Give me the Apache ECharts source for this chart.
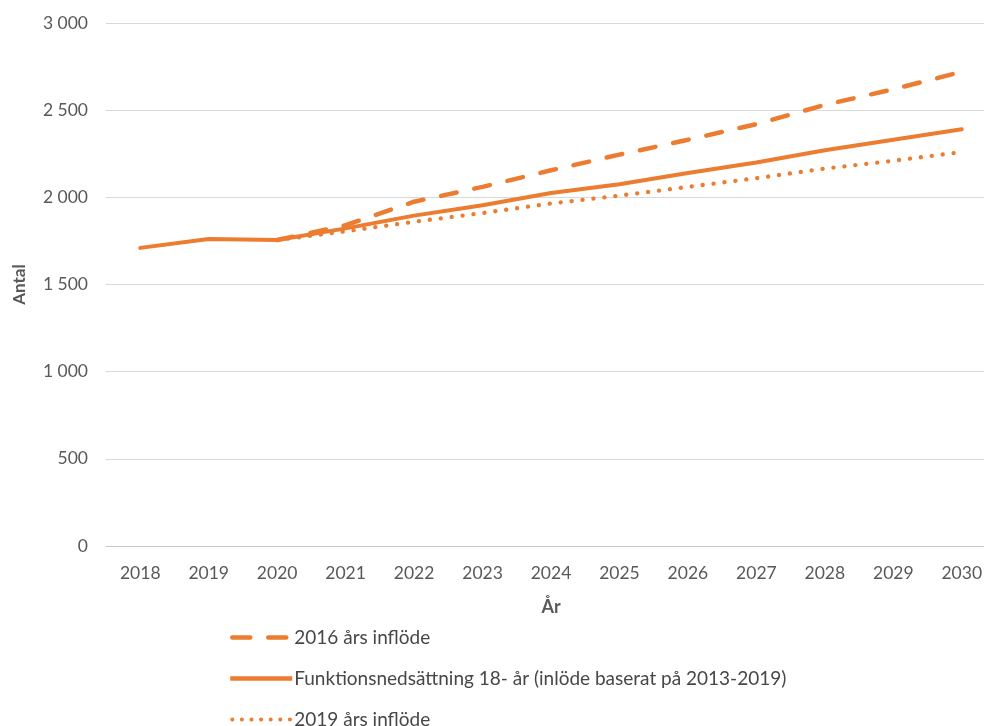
<!DOCTYPE html>
<html><head><meta charset="utf-8">
<script src="https://cdn.jsdelivr.net/npm/echarts@6/dist/echarts.min.js"></script>
<style>html,body{margin:0;padding:0;background:#fff;overflow:hidden;width:984px;height:726px}#c{width:1000px;height:726px}</style>
</head><body><div id="c"></div>
<script>
var years = ['2018','2019','2020','2021','2022','2023','2024','2025','2026','2027','2028','2029','2030'];
var yTicks = [0, 500, 1000, 1500, 2000, 2500, 3000];
var inflow2016 = [null, null, 1755, 1840, 1975, 2060, 2155, 2245, 2330, 2420, 2530, 2620, 2720];
var baseline = [1710, 1761, 1755, 1822, 1895, 1955, 2025, 2075, 2140, 2200, 2270, 2330, 2390];
var inflow2019 = [null, null, 1755, 1805, 1860, 1910, 1965, 2010, 2060, 2110, 2165, 2210, 2260];
var names = ['2016 års inflöde', 'Funktionsnedsättning 18- år (inlöde baserat på 2013-2019)', '2019 års inflöde'];

var color = '#EC7C30';
var font = 'Lato';
var dashStyle = {color: color, width: 4.5, type: [16, 18], cap: 'round'};
var solidStyle = {color: color, width: 4, type: 'solid', cap: 'round'};
var dotStyle = {color: color, width: 4.3, type: [0.1, 10.9], cap: 'round'};
var legendStyles = [
  {color: color, width: 4.5, type: [18, 18], cap: 'round', dashOffset: -2},
  {color: color, width: 4.5, type: 'solid', cap: 'butt'},
  {color: color, width: 4, type: [0.1, 9.5], cap: 'round', dashOffset: -2}
];
var chart = echarts.init(document.getElementById('c'));
chart.setOption({
  animation: false,
  textStyle: {fontFamily: font},
  grid: {left: 106, top: 23, width: 890, height: 523},
  legend: {
    orient: 'vertical', left: 228, top: 628, padding: 0, height: 110, itemGap: 22, itemWidth: 62, itemHeight: 18,
    itemStyle: {color: 'rgba(0,0,0,0)', borderWidth: 0, opacity: 0},
    textStyle: {fontFamily: font, fontSize: 19, color: '#474747', padding: [0,0,0,-3]},
    data: names.map(function(n, i){ return {name: n, lineStyle: legendStyles[i]}; })
  },
  xAxis: {
    type: 'category', data: years, boundaryGap: true,
    axisLine: {lineStyle: {color: '#c8c8c8', width: 1}},
    axisTick: {show: false},
    axisLabel: {color: '#595959', fontSize: 17.5, margin: 18, fontFamily: font},
    name: 'År', nameLocation: 'middle', nameGap: 52,
    nameTextStyle: {color: '#595959', fontSize: 18, fontWeight: 'bold', fontFamily: font}
  },
  yAxis: {
    type: 'value', min: yTicks[0], max: yTicks[yTicks.length-1], interval: 500,
    axisLine: {show: false}, axisTick: {show: false},
    splitLine: {lineStyle: {color: '#d9d9d9', width: 1}},
    axisLabel: {color: '#595959', fontSize: 17.5, margin: 18, fontFamily: font,
      formatter: function(v){ return String(v).replace(/\B(?=(\d{3})+(?!\d))/g, ' '); }},
    name: 'Antal', nameLocation: 'middle', nameGap: 78, nameRotate: 90,
    nameTextStyle: {color: '#595959', fontSize: 17, fontWeight: 'bold', fontFamily: font}
  },
  series: [
    {name: names[0], type: 'line', data: inflow2016, symbol: 'none', z: 2,
     lineStyle: dashStyle, itemStyle: {color: color}},
    {name: names[1], type: 'line', data: baseline, symbol: 'none', z: 3,
     lineStyle: solidStyle, itemStyle: {color: color}},
    {name: names[2], type: 'line', data: inflow2019, symbol: 'none', z: 1,
     lineStyle: dotStyle, itemStyle: {color: color}}
  ]
});
</script></body></html>
